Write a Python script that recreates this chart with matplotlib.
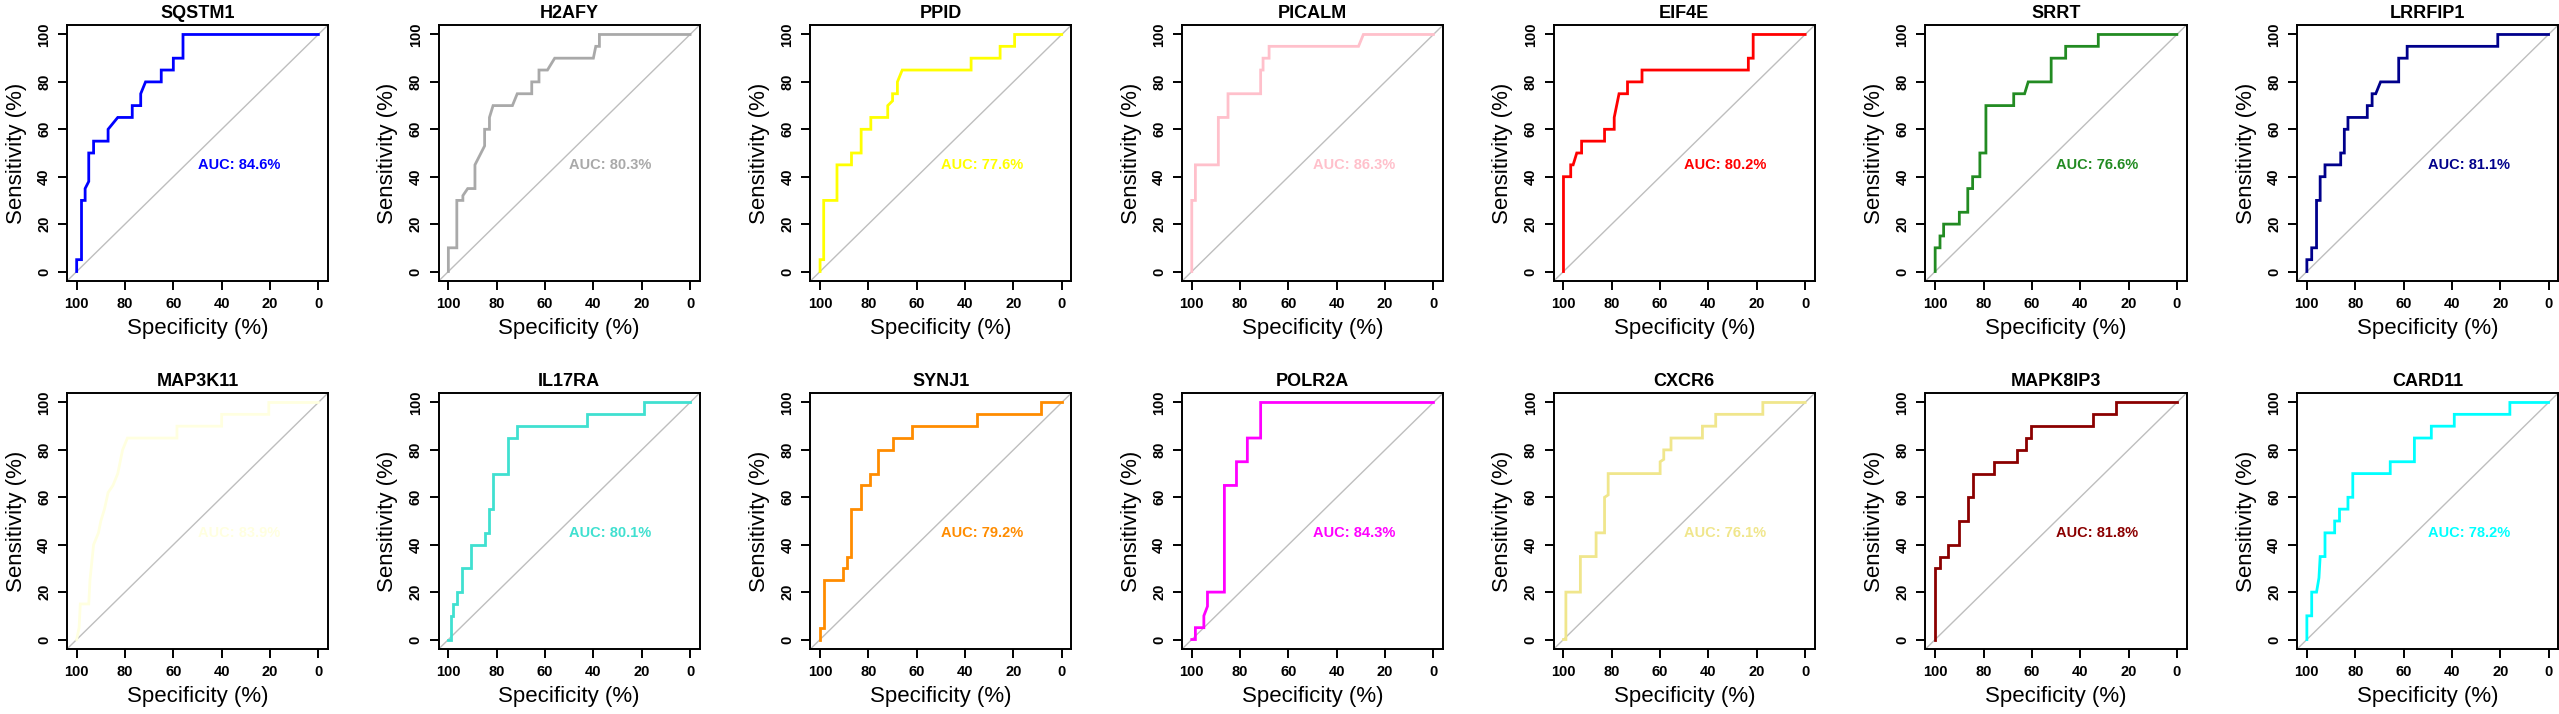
import matplotlib
matplotlib.use("Agg")
import matplotlib.pyplot as plt

plt.rcParams['font.family'] = ['Liberation Sans', 'DejaVu Sans']

# ROC curve vertices: (specificity %, sensitivity %)
roc_SQSTM1 = [(100, 0), (100, 5), (98, 5), (98, 30), (96.5, 30), (96.5, 35), (95, 38), (95, 50),
              (93, 50), (93, 55), (87, 55), (87, 60), (83, 65), (77, 65), (77, 70), (73.5, 70),
              (73.5, 75), (71.5, 80), (65, 80), (65, 85), (60, 85), (60, 90), (56, 90), (56, 100), (0, 100)]
roc_H2AFY = [(100, 0), (100, 10), (96.5, 10), (96.5, 30), (94, 30), (94, 32), (92, 35), (89, 35),
             (89, 45), (85, 53), (85, 60), (83, 60), (83, 65), (81.5, 70), (73.5, 70), (71.5, 75),
             (65.5, 75), (65.5, 80), (62.5, 80), (62.5, 85), (59, 85), (56, 90), (40, 90), (39, 95),
             (37.5, 95), (37.5, 100), (0, 100)]
roc_PPID = [(100, 0), (100, 5), (98.5, 5), (98.5, 30), (93, 30), (93, 45), (87, 45), (87, 50),
            (83, 50), (83, 60), (79, 60), (79, 65), (72, 65), (72, 70), (70, 72), (70, 75), (68, 75),
            (68, 80), (66, 85), (37.5, 85), (37.5, 90), (25.5, 90), (25.5, 95), (19.5, 95),
            (19.5, 100), (0, 100)]
roc_PICALM = [(100, 0), (100, 30), (98.5, 30), (98.5, 45), (89, 45), (89, 65), (85, 65), (85, 75),
              (71.5, 75), (71.5, 85), (70.5, 85), (70.5, 90), (68, 90), (68, 95), (31, 95), (29, 100),
              (0, 100)]
roc_EIF4E = [(100, 0), (100, 40), (97, 40), (97, 45), (96, 45), (94.5, 50), (92.5, 50), (92.5, 55),
             (83, 55), (83, 60), (79, 60), (79, 65), (77, 75), (73.5, 75), (73.5, 80), (67.5, 80),
             (67.5, 85), (23.5, 85), (23.5, 90), (21.5, 90), (21.5, 100), (0, 100)]
roc_SRRT = [(100, 0), (100, 10), (98, 10), (98, 15), (96.5, 15), (96.5, 20), (90, 20), (90, 25),
            (86.5, 25), (86.5, 35), (84.5, 35), (84.5, 40), (81.5, 40), (81.5, 50), (79, 50), (79, 70),
            (67.5, 70), (67.5, 75), (63, 75), (61.5, 80), (52, 80), (52, 90), (46, 90), (46, 95),
            (32.5, 95), (32.5, 100), (0, 100)]
roc_LRRFIP1 = [(100, 0), (100, 5), (98, 5), (98, 10), (96, 10), (96, 30), (94.5, 30), (94.5, 40),
               (92.5, 40), (92.5, 45), (86, 45), (86, 50), (84.5, 50), (84.5, 60), (83, 60), (83, 65),
               (75, 65), (75, 70), (73, 70), (73, 75), (71.5, 75), (69.5, 80), (62, 80), (62, 90),
               (58.5, 90), (58.5, 95), (21, 95), (21, 100), (0, 100)]
roc_MAP3K11 = [(100, 0), (99, 5), (98.5, 15), (95, 15), (94.5, 25), (93, 40), (91, 45), (90, 50),
               (88.5, 55), (87, 62), (85, 65), (83, 70), (81, 80), (79, 85), (58.5, 85), (58.5, 90),
               (40, 90), (40, 95), (20.5, 95), (20.5, 100), (0, 100)]
roc_IL17RA = [(100, 0), (99, 0), (99, 10), (98, 10), (98, 15), (96.5, 15), (96.5, 20), (94.5, 20),
              (94.5, 30), (90.5, 30), (90.5, 40), (85, 40), (85, 45), (83, 45), (83, 55), (81.5, 55),
              (81.5, 70), (75.5, 70), (75.5, 85), (71.5, 85), (71.5, 90), (42.5, 90), (42.5, 95),
              (19, 95), (19, 100), (0, 100)]
roc_SYNJ1 = [(100, 0), (100, 5), (98.5, 5), (98.5, 25), (90.5, 25), (90.5, 30), (89, 30), (89, 35),
             (87, 35), (87, 55), (83, 55), (83, 65), (79.5, 65), (79.5, 70), (76, 70), (76, 80),
             (70, 80), (70, 85), (62, 85), (62, 90), (35, 90), (35, 95), (8.5, 95), (8.5, 100), (0, 100)]
roc_POLR2A = [(100, 0), (98.5, 0), (98.5, 5), (95, 5), (95, 10), (93.5, 14), (93.5, 20), (86.5, 20),
              (86.5, 65), (81.5, 65), (81.5, 75), (77, 75), (77, 85), (71.5, 85), (71.5, 100), (0, 100)]
roc_CXCR6 = [(100, 0), (99, 0), (99, 20), (93, 20), (93, 35), (86.5, 35), (86.5, 45), (83, 45),
             (83, 60), (81.5, 61), (81.5, 70), (60, 70), (60, 75), (58.5, 76), (58.5, 80), (55.5, 80),
             (55.5, 85), (42.5, 85), (42.5, 90), (37, 90), (37, 95), (17.5, 95), (17.5, 100), (0, 100)]
roc_MAPK8IP3 = [(100, 0), (100, 30), (98, 30), (98, 35), (94.5, 35), (94.5, 40), (90, 40), (90, 50),
                (86.5, 50), (86.5, 60), (84.5, 60), (84.5, 70), (75.5, 70), (75.5, 75), (66, 75),
                (66, 80), (62.5, 80), (62.5, 85), (60.5, 85), (60.5, 90), (34.5, 90), (34.5, 95),
                (25, 95), (25, 100), (0, 100)]
roc_CARD11 = [(100, 0), (100, 10), (98, 10), (98, 20), (96, 20), (95, 26), (94.5, 35), (92.5, 35),
              (92.5, 45), (88.5, 45), (88.5, 50), (86.5, 50), (86.5, 55), (83, 55), (83, 60), (81, 60),
              (81, 70), (65.5, 70), (65.5, 75), (55.5, 75), (55.5, 85), (48.5, 85), (48.5, 90),
              (39, 90), (39, 95), (16, 95), (16, 100), (0, 100)]

genes = ['SQSTM1', 'H2AFY', 'PPID', 'PICALM', 'EIF4E', 'SRRT', 'LRRFIP1',
         'MAP3K11', 'IL17RA', 'SYNJ1', 'POLR2A', 'CXCR6', 'MAPK8IP3', 'CARD11']
aucs = [84.6, 80.3, 77.6, 86.3, 80.2, 76.6, 81.1,
        83.9, 80.1, 79.2, 84.3, 76.1, 81.8, 78.2]
colors = ['#0000FF', '#A9A9A9', '#FFFF00', '#FFC0CB', '#FF0000', '#228B22', '#00008B',
          '#FFFFE0', '#40E0D0', '#FF8C00', '#FF00FF', '#F0E68C', '#8B0000', '#00FFFF']
curves = [roc_SQSTM1, roc_H2AFY, roc_PPID, roc_PICALM, roc_EIF4E, roc_SRRT, roc_LRRFIP1,
          roc_MAP3K11, roc_IL17RA, roc_SYNJ1, roc_POLR2A, roc_CXCR6, roc_MAPK8IP3, roc_CARD11]

W, H = 2559, 714
fig = plt.figure(figsize=(W / 100, H / 100), dpi=100)

col_left = 67
col_step = 371.7
box_w, box_h = 261, 256
row_top = [25, 393]

for i, gene in enumerate(genes):
    r, c = divmod(i, 7)
    left = col_left + c * col_step
    top = row_top[r]
    ax = fig.add_axes([left / W, 1 - (top + box_h) / H, box_w / W, box_h / H])

    spec = [p[0] for p in curves[i]]
    sens = [p[1] for p in curves[i]]

    ax.axline((100, 0), (0, 100), color='#BEBEBE', lw=1.0, zorder=1)
    ax.plot(spec, sens, color=colors[i], lw=2.0, zorder=2, solid_joinstyle='miter')
    ax.text(50, 45, 'AUC: %.1f%%' % aucs[i], color=colors[i], fontsize=10.5,
            fontweight='bold', ha='left', va='center')

    ax.set_xlim(104, -4)
    ax.set_ylim(-4, 104)
    ax.set_xticks([100, 80, 60, 40, 20, 0])
    ax.set_yticks([0, 20, 40, 60, 80, 100])
    ax.tick_params(direction='out', length=6.5, width=1.4, labelsize=10.5, pad=5)
    for lab in ax.get_xticklabels() + ax.get_yticklabels():
        lab.set_fontweight('bold')
    for lab in ax.get_yticklabels():
        lab.set_rotation(90)
        lab.set_va('center')
    for sp in ax.spines.values():
        sp.set_linewidth(1.4)

    ax.set_title(gene, fontsize=13, fontweight='bold', pad=5)
    ax.set_xlabel('Specificity (%)', fontsize=16)
    ax.set_ylabel('Sensitivity (%)', fontsize=16)
    ax.xaxis.set_label_coords(0.5, -0.145)
    ax.yaxis.set_label_coords(-0.155, 0.5)

fig.savefig('out.png', dpi=100)
